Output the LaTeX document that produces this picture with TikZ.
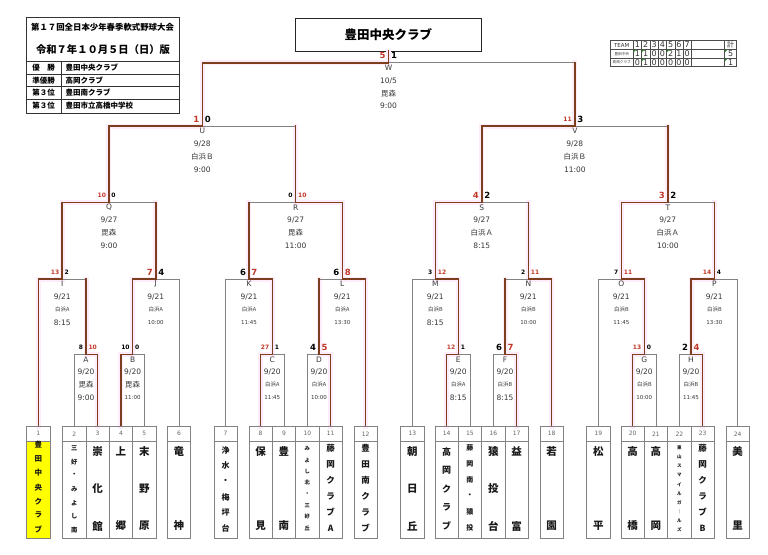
\documentclass[tikz,border=0pt]{standalone}
\usepackage{fontspec}
\setmainfont{DejaVu Sans}
\newfontfamily\jp{Noto Sans CJK JP}
\definecolor{brn}{RGB}{125,62,30}
\definecolor{glw}{RGB}{255,236,251}
\definecolor{gry}{RGB}{130,130,130}
\definecolor{scr}{RGB}{195,55,40}
\definecolor{txt}{RGB}{55,55,55}
\definecolor{nm}{RGB}{25,25,25}
\definecolor{yel}{RGB}{255,255,0}
\definecolor{cmtgreen}{RGB}{40,130,40}

\newcommand\bracketlines{%
\foreach \mx/\ml/\mr/\va/\vb/\ha/\hb in {
A/t2/t3/ls/wn/ls/wn, B/t4/t5/wn/ls/wn/ls, C/t8/t9/wn/ls/wn/ls, D/t10/t11/ls/wn/ls/wn,
E/t14/t15/wn/ls/wn/ls, F/t16/t17/ls/wn/ls/wn, G/t20/t21/wn/ls/wn/ls, H/t22/t23/ls/wn/ls/wn,
I/t1/A/wn/wn/wn/ls, J/B/t6/wn/ls/wn/ls, K/t7/C/ls/wn/ls/wn, L/D/t12/wn/wn/ls/wn,
M/t13/E/ls/wn/ls/wn, N/F/t18/wn/wn/ls/wn, O/t19/G/ls/wn/ls/wn, P/H/t24/wn/ls/wn/ls,
Q/I/J/wn/wn/wn/ls, R/K/L/wn/wn/ls/wn, S/M/N/wn/wn/wn/ls, T/O/P/wn/wn/wn/ls,
U/Q/R/wn/wn/wn/ls, V/S/T/wn/wn/wn/ls, W/U/V/wn/wn/wn/ls}{
 \draw[\va] (\ml) -- (\ml |- \mx);
 \draw[\vb] (\mr) -- (\mr |- \mx);
 \draw[\ha] (\ml |- \mx) -- (\mx);
 \draw[\hb] (\mr |- \mx) -- (\mx);
}
\draw[wn] (W) -- (W |- title.south);
}

\newcommand\minfo[7]{%
 \node[mt] (#1-a) at ([yshift=-5pt]#1) {#2};
 \node[mt] (#1-b) at ([yshift=-18pt]#1) {#3};
 \node[#6] (#1-c) at ([yshift=-30.5pt]#1) {\jp #4};
 \node[#7] (#1-d) at ([yshift=-43.3pt]#1) {#5};
}
\newcommand\scores[5]{%
 \node[anchor=east,#3] (#1-sl) at ([xshift=-3pt,yshift=7pt]#1) {#2};
 \node[anchor=west,#5] (#1-sr) at ([xshift=2.5pt,yshift=7pt]#1) {#4};
}
\newcommand\vname[6]{%
 \foreach \ch [count=\k from 0] in {#6}{%
   \pgfmathsetmacro\yy{#2+(#3-#2)*\k/max(#4-1,1)}%
   \node[font=\jp\bfseries\fontsize{#5}{#5}\selectfont, text=nm] (#1-c\k) at (#1 |- 0,\yy) {\ch};
 }}

\begin{document}
\begin{tikzpicture}[x=1pt,y=-1pt,
  every node/.style={inner sep=0pt, outer sep=0pt},
  mt/.style={font=\fontsize{7.5}{8}\selectfont, text=txt},
  ms/.style={font=\fontsize{5.5}{6}\selectfont, text=txt},
  nr/.style={font=\fontsize{8.5}{9}\selectfont\bfseries, text=scr},
  nk/.style={font=\fontsize{8.5}{9}\selectfont\bfseries, text=black},
  sr/.style={font=\fontsize{6}{6}\selectfont\bfseries, text=scr},
  sk/.style={font=\fontsize{6}{6}\selectfont\bfseries, text=black},
  tbl/.style={draw=black!70, line width=0.5pt},
  tnum/.style={font=\fontsize{8}{8}\selectfont, text=txt},
  info/.style={font=\jp\bfseries\fontsize{7.5}{8}\selectfont, text=black}]
\useasboundingbox (0,0) rectangle (768,554);
\fill[white] (0,0) rectangle (768,554);

% team coordinates
\foreach \i/\l in {1/26.7,2/62.7,3/86,4/109.3,5/132.7,6/167.3,7/214,8/249,9/272.3,10/295.7,11/319,12/354,
  13/400.7,14/435,15/458.3,16/481.7,17/505,18/540,19/586.7,20/621,21/644.3,22/667.7,23/691,24/726}{
  \coordinate (t\i) at (\l+11.65,426);
}
% match coordinates
\coordinate (A) at (86,354.3);     \coordinate (B) at (132.65,354.3);
\coordinate (C) at (272.3,354.3);  \coordinate (D) at (319,354.3);
\coordinate (E) at (458.3,354.3);  \coordinate (F) at (505,354.3);
\coordinate (G) at (644.3,354.3);  \coordinate (H) at (691,354.3);
\coordinate (I) at (62.18,279);    \coordinate (J) at (155.8,279);
\coordinate (K) at (248.98,279);   \coordinate (L) at (342.33,279);
\coordinate (M) at (435.33,279);   \coordinate (N) at (528.33,279);
\coordinate (O) at (621.33,279);   \coordinate (P) at (714.33,279);
\coordinate (Q) at (108.99,202.3); \coordinate (R) at (295.65,202.3);
\coordinate (S) at (481.83,202.3); \coordinate (T) at (667.83,202.3);
\coordinate (U) at (202.32,126);   \coordinate (V) at (574.83,126);
\coordinate (W) at (388.57,62.7);

% title box
\node[draw=black!85, line width=0.9pt, minimum width=186.7pt, minimum height=33pt,
  font=\jp\bfseries\fontsize{12.5}{13}\selectfont] (title) at (388.4,34.5) {豊田中央クラブ};

% bracket: glow, gray, brown
\begin{scope}[wn/.style={draw=glw,line width=5pt,line cap=rect}, ls/.style={draw=none}]
\bracketlines
\end{scope}
\begin{scope}[wn/.style={draw=none}, ls/.style={draw=gry,line width=0.8pt}]
\bracketlines
\end{scope}
\begin{scope}[wn/.style={draw=brn,line width=1.6pt,line cap=rect}, ls/.style={draw=none}]
\bracketlines
\end{scope}

% team boxes
\fill[yel] (26.7,441) rectangle (50,538);
\foreach \i/\l in {1/26.7,2/62.7,3/86,4/109.3,5/132.7,6/167.3,7/214,8/249,9/272.3,10/295.7,11/319,12/354,
  13/400.7,14/435,15/458.3,16/481.7,17/505,18/540,19/586.7,20/621,21/644.3,22/667.7,23/691,24/726}{
  \node[draw=gry, line width=0.7pt, minimum width=23.3pt, minimum height=112pt, anchor=north west] (box\i) at (\l,426) {};
  \draw[gry, line width=0.7pt] (\l,441) -- (\l+23.3,441);
  \node[font=\fontsize{6}{6}\selectfont, text=black!60] (num\i) at (\l+11.65,433.8) {\i};
}

% team names
\vname{t1}{445}{529.3}{7}{7.5}{豊,田,中,央,ク,ラ,ブ}
\vname{t2}{448}{530}{7}{6.3}{三,好,・,み,よ,し,南}
\vname{t3}{451.7}{526}{3}{10.5}{崇,化,館}
\vname{t4}{451.7}{526}{2}{10.5}{上,郷}
\vname{t5}{451.7}{526}{3}{10.5}{末,野,原}
\vname{t6}{451.7}{526}{2}{10.5}{竜,神}
\vname{t7}{450}{528.3}{6}{8}{浄,水,・,梅,坪,台}
\vname{t8}{451.7}{526}{2}{10.5}{保,見}
\vname{t9}{451.7}{526}{2}{10.5}{豊,南}
\vname{t10}{449}{528}{8}{5.3}{み,よ,し,北,・,三,好,丘}
\vname{t11}{448}{528}{6}{8.5}{藤,岡,ク,ラ,ブ,A}
\vname{t12}{448}{528}{6}{8.5}{豊,田,南,ク,ラ,ブ}
\vname{t13}{451.7}{526}{3}{10.5}{朝,日,丘}
\vname{t14}{451.7}{526}{5}{9}{高,岡,ク,ラ,ブ}
\vname{t15}{448}{528}{6}{7}{藤,岡,南,・,猿,投}
\vname{t16}{451.7}{526}{3}{10.5}{猿,投,台}
\vname{t17}{451.7}{526}{2}{10.5}{益,富}
\vname{t18}{451.7}{526}{2}{10.5}{若,園}
\vname{t19}{451.7}{526}{2}{10.5}{松,平}
\vname{t20}{451.7}{526}{2}{10.5}{高,橋}
\vname{t21}{451.7}{526}{2}{10.5}{高,岡}
\vname{t22}{448}{530}{10}{4.5}{東,山,ス,マ,イ,ル,ガ,｜,ル,ズ}
\vname{t23}{448}{528}{6}{8.5}{藤,岡,ク,ラ,ブ,B}
\vname{t24}{451.7}{526}{2}{10.5}{美,里}

% match info
\minfo{W}{W}{10/5}{毘森}{9:00}{mt}{mt}
\minfo{U}{U}{9/28}{白浜Ｂ}{9:00}{mt}{mt}
\minfo{V}{V}{9/28}{白浜Ｂ}{11:00}{mt}{mt}
\minfo{Q}{Q}{9/27}{毘森}{9:00}{mt}{mt}
\minfo{R}{R}{9/27}{毘森}{11:00}{mt}{mt}
\minfo{S}{S}{9/27}{白浜Ａ}{8:15}{mt}{mt}
\minfo{T}{T}{9/27}{白浜Ａ}{10:00}{mt}{mt}
\minfo{I}{I}{9/21}{白浜A}{8:15}{ms}{mt}
\minfo{J}{J}{9/21}{白浜A}{10:00}{ms}{ms}
\minfo{K}{K}{9/21}{白浜A}{11:45}{ms}{ms}
\minfo{L}{L}{9/21}{白浜A}{13:30}{ms}{ms}
\minfo{M}{M}{9/21}{白浜B}{8:15}{ms}{mt}
\minfo{N}{N}{9/21}{白浜B}{10:00}{ms}{ms}
\minfo{O}{O}{9/21}{白浜B}{11:45}{ms}{ms}
\minfo{P}{P}{9/21}{白浜B}{13:30}{ms}{ms}
\minfo{A}{A}{9/20}{毘森}{9:00}{mt}{mt}
\minfo{B}{B}{9/20}{毘森}{11:00}{mt}{ms}
\minfo{C}{C}{9/20}{白浜A}{11:45}{ms}{ms}
\minfo{D}{D}{9/20}{白浜A}{10:00}{ms}{ms}
\minfo{E}{E}{9/20}{白浜A}{8:15}{ms}{mt}
\minfo{F}{F}{9/20}{白浜B}{8:15}{ms}{mt}
\minfo{G}{G}{9/20}{白浜B}{10:00}{ms}{ms}
\minfo{H}{H}{9/20}{白浜B}{11:45}{ms}{ms}

% scores
\scores{W}{5}{nr}{1}{nk}
\scores{U}{1}{nr}{0}{nk}
\scores{V}{11}{sr}{3}{nk}
\scores{Q}{10}{sr}{0}{sk}
\scores{R}{0}{sk}{10}{sr}
\scores{S}{4}{nr}{2}{nk}
\scores{T}{3}{nr}{2}{nk}
\scores{I}{13}{sr}{2}{sk}
\scores{J}{7}{nr}{4}{nk}
\scores{K}{6}{nk}{7}{nr}
\scores{L}{6}{nk}{8}{nr}
\scores{M}{3}{sk}{12}{sr}
\scores{N}{2}{sk}{11}{sr}
\scores{O}{7}{sk}{11}{sr}
\scores{P}{14}{sr}{4}{sk}
\scores{A}{8}{sk}{10}{sr}
\scores{B}{10}{sk}{0}{sk}
\scores{C}{27}{sr}{1}{sk}
\scores{D}{4}{nk}{5}{nr}
\scores{E}{12}{sr}{1}{sk}
\scores{F}{6}{nk}{7}{nr}
\scores{G}{13}{sr}{0}{sk}
\scores{H}{2}{nk}{4}{nr}

% info box
\draw[black!80, line width=0.8pt] (26,17.3) rectangle (179,113.3);
\foreach \yy in {61.7,74.3,86.5,99}{ \draw[black!80, line width=0.6pt] (26,\yy) -- (179,\yy); }
\draw[black!80, line width=0.6pt] (61,61.7) -- (61,113.3);
\node[font=\jp\bfseries\fontsize{8.4}{9}\selectfont] (info1) at (102.5,27) {第１７回全日本少年春季軟式野球大会};
\node[font=\jp\bfseries\fontsize{10.3}{11}\selectfont] (info2) at (103,50) {令和７年１０月５日（日）版};
\node[info] (r1a) at (43.5,68) {優　勝};
\node[info] (r2a) at (43.5,80.4) {準優勝};
\node[info] (r3a) at (43.5,92.7) {第３位};
\node[info] (r4a) at (43.5,106) {第３位};
\node[info, anchor=west] (r1b) at (65.5,68) {豊田中央クラブ};
\node[info, anchor=west] (r2b) at (65.5,80.4) {高岡クラブ};
\node[info, anchor=west] (r3b) at (65.5,92.7) {豊田南クラブ};
\node[info, anchor=west] (r4b) at (65.5,106) {豊田市立高橋中学校};

% score table
\draw[tbl] (610,40.7) rectangle (736.7,66.7);
\draw[tbl] (610,49.3) -- (736.7,49.3);
\draw[tbl] (610,58.3) -- (736.7,58.3);
\foreach \xx in {633.3,641.6,649.9,658.2,666.5,674.8,683.1,691.4,724.5}{ \draw[tbl] (\xx,40.7) -- (\xx,66.7); }
\node[font=\fontsize{5.5}{6}\selectfont, text=txt] (th) at (621.7,45) {TEAM};
\node[font=\jp\fontsize{3.6}{4}\selectfont, text=txt] (tn1) at (621.7,53.8) {豊田中央};
\node[font=\jp\fontsize{3.6}{4}\selectfont, text=txt] (tn2) at (621.7,62.5) {高岡クラブ};
\foreach \c/\a/\b [count=\k] in {1/1/0,2/1/1,3/0/0,4/0/0,5/2/0,6/1/0,7/0/0}{
  \node[tnum] (h\k) at (629.15+8.3*\k,45) {\c};
  \node[tnum] (ra\k) at (629.15+8.3*\k,53.8) {\a};
  \node[tnum] (rb\k) at (629.15+8.3*\k,62.5) {\b};
}
\node[font=\jp\fontsize{7}{7}\selectfont, text=txt] (hsum) at (730.6,45) {計};
\node[tnum] (rasum) at (730.6,53.8) {5};
\node[tnum] (rbsum) at (730.6,62.5) {1};
\foreach \xx/\yy in {633.6/49.6,641.9/49.6,666.8/49.6,724.8/49.6,641.9/58.6,724.8/58.6}{
  \fill[cmtgreen] (\xx,\yy) -- ++(2.6,0) -- ++(-2.6,2.6) -- cycle;
}
\end{tikzpicture}
\end{document}
